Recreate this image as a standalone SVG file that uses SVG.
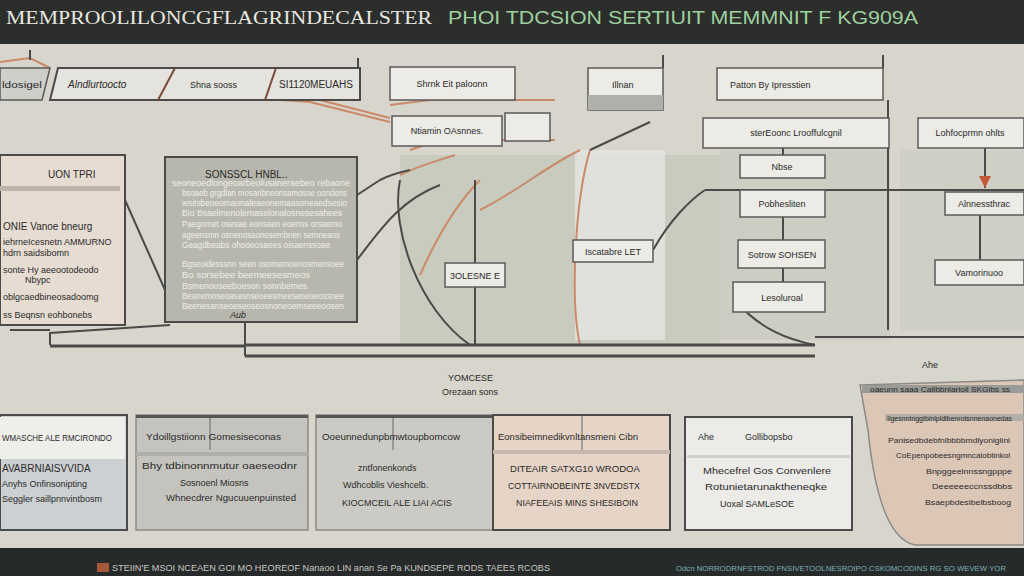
<svg xmlns="http://www.w3.org/2000/svg" width="1024" height="576" viewBox="0 0 1024 576">
<defs>
<style>
.t{font-family:"Liberation Sans Narrow","Liberation Sans",Arial,sans-serif;fill:#2a2a2a}
.s{font-size:9px}
.m{font-size:10px}
.x{font-size:8px}
.w{fill:#f0f0ea}
.box{stroke:#4a4a4a;stroke-width:2}
.lab{fill:#ecebe6;stroke:#5a5a5a;stroke-width:1.5}
.cu{fill:none;stroke:#c98a6a;stroke-width:2}
.dk{fill:none;stroke:#4a4a48;stroke-width:2}
.bus{fill:none;stroke:#4a4a48;stroke-width:3}
</style>
<marker id="ar" viewBox="0 0 10 10" refX="10" refY="5" markerWidth="12" markerHeight="12" markerUnits="userSpaceOnUse" orient="auto">
<path d="M0,0 L10,5 L0,10 Z" fill="#c2573a"/>
</marker>
</defs>
<rect width="1024" height="576" fill="#d8d5cc"/>
<!-- header -->
<rect x="0" y="0" width="1024" height="44" fill="#2c2e2c"/>
<text x="6" y="24" font-family="Liberation Serif,serif" font-size="19" fill="#e8e8e0" textLength="426" lengthAdjust="spacingAndGlyphs">MEMPROOLILONCGFLAGRINDECALSTER</text>
<text x="448" y="24" font-family="Liberation Sans Narrow,Liberation Sans,sans-serif" font-size="19" fill="#9fd09f" textLength="470" lengthAdjust="spacingAndGlyphs">PHOI TDCSION SERTIUIT MEMMNIT F KG909A</text>
<!-- footer -->
<rect x="0" y="548" width="1024" height="28" fill="#262a2b"/>
<rect x="97" y="563" width="12" height="9" fill="#a5583c"/>
<text x="112" y="571" class="t s" style="fill:#c8c8c0" textLength="438" lengthAdjust="spacingAndGlyphs">STEIIN'E MSOI NCEAEN GOI MO HEOREOF Nanaoo LIN anan Se Pa KUNDSEPE RODS TAEES RCOBS</text>
<text x="676" y="571" class="t x" style="fill:#7fb0b8" textLength="330" lengthAdjust="spacingAndGlyphs">Odcn NORRODRNFSTROD FNSIVETOOLNESROIPO CSKOMCODINS RG SO WEVEW YOR</text>

<!-- background shaded regions -->
<rect x="400" y="155" width="320" height="190" fill="#b8bfb0" opacity="0.45"/>
<rect x="575" y="150" width="90" height="190" fill="#e6e6e2" opacity="0.8"/>
<rect x="720" y="150" width="170" height="190" fill="#c3c6bb" opacity="0.5"/>
<rect x="900" y="150" width="124" height="180" fill="#c8cabf" opacity="0.5"/>

<!-- connectors -->
<g id="connectors">
<path class="cu" d="M0,62 L30,58 L50,68"/>
<path class="cu" d="M280,100 L310,102 L390,122"/>
<path class="cu" d="M280,96 L312,98 L390,118"/>
<path class="cu" d="M390,105 L430,100 L555,100"/>
<path class="cu" d="M410,150 L440,140 L555,140"/>
<path class="cu" d="M400,175 C420,165 440,160 455,155"/>
<path class="cu" d="M420,275 C440,230 460,200 480,180"/>
<path class="cu" d="M480,210 C520,190 540,170 580,150"/>
<path class="cu" d="M590,150 C575,200 570,300 580,345"/>
<path class="dk" d="M357,195 L380,180 C390,175 400,172 410,170"/>
<path class="dk" d="M357,260 C380,230 400,200 440,185"/>
<path class="dk" d="M400,180 C390,230 420,310 470,345"/>
<path class="dk" d="M475,180 L475,345"/>
<path class="dk" d="M50,345 L50,333 L170,325"/>
<path class="dk" d="M125,200 L165,290"/>
<path class="dk" d="M10,330 L50,330"/>
<path class="dk" d="M653,250 C670,220 690,200 705,190"/>
<path class="dk" d="M590,150 L650,122"/>
<path class="dk" d="M705,190 L1024,190"/>
<path class="dk" d="M783,148 L783,155"/>
<path class="dk" d="M783,217 L783,312"/>
<path class="dk" d="M735,300 C760,330 790,340 815,345"/>
<path class="dk" d="M888,100 L888,330"/>
<path class="dk" d="M985,148 L985,188" marker-end="url(#ar)"/>
<path class="dk" d="M980,215 L980,260"/>
<path class="bus" d="M245,345 L815,345"/>
<path class="bus" d="M245,356 L815,356"/>
<path class="bus" d="M50,346 L245,346"/>
<path class="dk" d="M815,337 L1024,337"/>
<path class="dk" d="M245,322 L245,356"/>
<path class="dk" d="M30,60 L30,50"/>
<path class="dk" d="M358,58 L358,68"/>
<path class="dk" d="M663,55 L663,68"/>
<path class="dk" d="M883,55 L883,68"/>
</g>

<!-- top row nodes -->
<g id="n-chev0">
<path d="M0,68 L50,68 L42,100 L0,100 Z" fill="#cfcfca" stroke="#5a5a5a" stroke-width="1.5"/>
<text x="2" y="88" class="t s" textLength="40" lengthAdjust="spacingAndGlyphs">ldosigel</text>
</g>
<g id="n-chev">
<path d="M58,68 L360,68 L360,100 L50,100 Z" fill="#e4e3de" stroke="#4a4a4a" stroke-width="2"/>
<path d="M175,68 L158,100 M276,68 L265,100" stroke="#7a4a3a" stroke-width="2"/>
<text x="68" y="88" class="t m" font-style="italic">Alndlurtoocto</text>
<text x="190" y="88" class="t s">Shna sooss</text>
<text x="279" y="88" class="t m" textLength="74" lengthAdjust="spacingAndGlyphs">SI1120MEUAHS</text>
</g>
<g id="n-a">
<rect x="390" y="67" width="125" height="33" class="lab"/>
<text x="452" y="87" class="t s" text-anchor="middle">Shrnk Eit paloonn</text>
</g>
<g id="n-b">
<rect x="392" y="116" width="110" height="30" class="lab"/>
<text x="447" y="134" class="t s" text-anchor="middle">Ntiamin OAsnnes.</text>
</g>
<g id="n-b2">
<rect x="505" y="113" width="45" height="28" class="lab"/>
</g>
<g id="n-c">
<rect x="588" y="68" width="75" height="42" class="lab"/>
<rect x="588" y="95" width="75" height="15" fill="#b0b0aa"/>
<text x="612" y="88" class="t s">Illnan</text>
</g>
<g id="n-d">
<rect x="717" y="68" width="166" height="32" class="lab"/>
<text x="730" y="88" class="t s">Patton By Ipresstien</text>
</g>
<g id="n-e">
<rect x="703" y="118" width="186" height="30" class="lab"/>
<text x="796" y="136" class="t s" text-anchor="middle">sterEoonc Lrooffulcgnil</text>
</g>
<g id="n-f">
<rect x="918" y="118" width="106" height="30" class="lab"/>
<text x="970" y="136" class="t s" text-anchor="middle">Lohfocprmn ohlts</text>
</g>

<!-- middle left panels -->
<g id="n-left">
<rect x="0" y="155" width="125" height="170" fill="#e6dcd2" class="box"/>
<text x="48" y="178" class="t m">UON TPRI</text>
<rect x="0" y="186" width="120" height="5" fill="#bdb3ad"/>
<text x="3" y="230" class="t m">ONIE Vanoe bneurg</text>
<text x="3" y="245" class="t s">iehrneIcesnetn AMMURNO</text>
<text x="3" y="256" class="t s">hdrn saidsibomn</text>
<text x="3" y="273" class="t s">sonte Hy aeeootodeodo</text>
<text x="25" y="283" class="t s">Nbypc</text>
<text x="3" y="300" class="t s">oblgcaedbineosadoomg</text>
<text x="3" y="318" class="t s">ss Beqnsn eohbonebs</text>
</g>
<g id="n-mid">
<rect x="165" y="157" width="192" height="165" fill="#b7b7ad" class="box"/>
<text x="205" y="178" class="t m">SONSSCL HNBL..</text>
<text x="172" y="186" class="t s w" textLength="178" lengthAdjust="spacingAndGlyphs">seoneoedlongeoarbeolusaneraebeo rebaone</text>
<text x="182" y="196" class="t s w" textLength="165" lengthAdjust="spacingAndGlyphs">bsoaeb grgdlan mosanbneonsamosoe oondens</text>
<text x="182" y="206" class="t s w" textLength="165" lengthAdjust="spacingAndGlyphs">wsitsbeoeomaonaleaeonemaasoneaedsesio</text>
<text x="182" y="216" class="t s w" textLength="160" lengthAdjust="spacingAndGlyphs">Bio Bsaelmenolemaselonalosnesesahees</text>
<text x="182" y="227" class="t s w" textLength="160" lengthAdjust="spacingAndGlyphs">Paegomet osesae eonsaen eoenss orsaemo</text>
<text x="182" y="238" class="t s w" textLength="158" lengthAdjust="spacingAndGlyphs">ageensmn osnenosaonosembnen semneaos</text>
<text x="182" y="248" class="t s w" textLength="148" lengthAdjust="spacingAndGlyphs">Geagdbeabs ohooeosaees oisaenssoae</text>
<text x="182" y="267" class="t s w" textLength="162" lengthAdjust="spacingAndGlyphs">Bgseoidesssnn seen osomemoenosmensoee</text>
<text x="182" y="278" class="t s w" textLength="128" lengthAdjust="spacingAndGlyphs">Bo sorsebee beemeesesmeos</text>
<text x="182" y="289" class="t s w" textLength="125" lengthAdjust="spacingAndGlyphs">Bsmenooseeboeson sonnbemes</text>
<text x="182" y="299" class="t s w" textLength="162" lengthAdjust="spacingAndGlyphs">Beanemoseoasesnseoeesmeeseneoeossnee</text>
<text x="182" y="309" class="t s w" textLength="162" lengthAdjust="spacingAndGlyphs">Beenesanseoeseoseosnoneoemseeeoosen</text>
<text x="230" y="318" class="t s" font-style="italic">Aub</text>
</g>

<!-- middle labels -->
<g id="n-g">
<rect x="445" y="263" width="60" height="24" class="lab"/>
<text x="475" y="279" class="t s" text-anchor="middle">3OLESNE E</text>
</g>
<g id="n-h">
<rect x="573" y="240" width="80" height="22" class="lab"/>
<text x="613" y="255" class="t s" text-anchor="middle">Iscatabre LET</text>
</g>
<g id="n-i">
<rect x="740" y="155" width="85" height="23" class="lab"/>
<text x="782" y="170" class="t s" text-anchor="middle">Nbse</text>
</g>
<g id="n-j">
<rect x="740" y="190" width="85" height="27" class="lab"/>
<text x="782" y="207" class="t s" text-anchor="middle">Pobhesliten</text>
</g>
<g id="n-k">
<rect x="738" y="240" width="87" height="28" class="lab"/>
<text x="782" y="258" class="t s" text-anchor="middle">Sotrow SOHSEN</text>
</g>
<g id="n-l">
<rect x="733" y="282" width="92" height="30" class="lab"/>
<text x="782" y="301" class="t s" text-anchor="middle">Lesoluroal</text>
</g>
<g id="n-m">
<rect x="945" y="192" width="79" height="23" class="lab"/>
<text x="984" y="207" class="t s" text-anchor="middle">Alnnessthrac</text>
</g>
<g id="n-n">
<rect x="935" y="260" width="89" height="25" class="lab"/>
<text x="979" y="276" class="t s" text-anchor="middle">Vamorinuoo</text>
</g>
<g id="n-note">
<text x="448" y="381" class="t s">YOMCESE</text>
<text x="442" y="395" class="t s">Orezaan sons</text>
<text x="922" y="368" class="t s">Ahe</text>
</g>

<!-- bottom row -->
<g id="n-p1">
<rect x="0" y="415" width="127" height="115" fill="#cdd0d2" class="box"/>
<rect x="0" y="417" width="125" height="42" fill="#eeeeea"/>
<text x="2" y="441" class="t s" textLength="110" lengthAdjust="spacingAndGlyphs">WMASCHE ALE RMCIRONDO</text>
<text x="2" y="472" class="t m">AVABRNIAISVVIDA</text>
<text x="2" y="487" class="t s">Anyhs Onfinsonipting</text>
<text x="2" y="502" class="t s">Seggler saillpnnvintbosm</text>
</g>
<g id="n-p2">
<rect x="136" y="415" width="172" height="115" fill="#c4c3bd" stroke="#8a8a86" stroke-width="1.5"/>
<rect x="136" y="415" width="172" height="3" fill="#555"/>
<path d="M210,418 L210,450" stroke="#666" stroke-width="1"/>
<rect x="136" y="452" width="172" height="4" fill="#aeaeaa"/>
<text x="146" y="440" class="t s" textLength="135" lengthAdjust="spacingAndGlyphs">Ydoillgstiionn Gomesiseconas</text>
<text x="142" y="469" class="t s" textLength="155" lengthAdjust="spacingAndGlyphs">Bhy tdbinonnmutur oaeseodnr</text>
<text x="180" y="486" class="t s">Sosnoenl Miosns</text>
<text x="166" y="501" class="t s" textLength="130" lengthAdjust="spacingAndGlyphs">Whnecdrer Ngucuuenpuinsted</text>
</g>
<g id="n-p3">
<rect x="316" y="415" width="177" height="115" fill="#cbcac4" stroke="#8a8a86" stroke-width="1.5"/>
<rect x="316" y="415" width="177" height="3" fill="#555"/>
<path d="M393,418 L393,450" stroke="#666" stroke-width="1"/>
<text x="322" y="440" class="t s" textLength="138" lengthAdjust="spacingAndGlyphs">Ooeunnedunpbmwtoupbomcow</text>
<text x="358" y="471" class="t s">zntfonenkonds</text>
<text x="343" y="488" class="t s">Wdhcoblis Vieshcelb.</text>
<text x="342" y="506" class="t s">KIOCMCEIL ALE LIAI ACIS</text>
</g>
<g id="n-p4">
<rect x="493" y="415" width="177" height="115" fill="#e6d4c6" class="box"/>
<rect x="493" y="450" width="177" height="4" fill="#c8b8ac"/>
<path d="M582,415 L582,450" stroke="#666" stroke-width="1"/>
<text x="498" y="440" class="t s" textLength="140" lengthAdjust="spacingAndGlyphs">Eonsibeimnedikvnltansmeni Cibn</text>
<text x="510" y="472" class="t s" textLength="130" lengthAdjust="spacingAndGlyphs">DITEAIR SATXG10 WRODOA</text>
<text x="508" y="489" class="t s" textLength="132" lengthAdjust="spacingAndGlyphs">COTTAIRNOBEINTE 3NVEDSTX</text>
<text x="516" y="506" class="t s" textLength="122" lengthAdjust="spacingAndGlyphs">NIAFEEAIS MINS SHESIBOIN</text>
</g>
<g id="n-p5">
<rect x="685" y="417" width="167" height="113" fill="#ecebe8" class="box"/>
<rect x="687" y="455" width="163" height="3" fill="#cfcfcb"/>
<text x="698" y="440" class="t s">Ahe</text>
<text x="745" y="440" class="t s">Gollibopsbo</text>
<text x="703" y="474" class="t s" textLength="128" lengthAdjust="spacingAndGlyphs">Mhecefrel Gos Convenlere</text>
<text x="705" y="490" class="t s" textLength="122" lengthAdjust="spacingAndGlyphs">Rotunietarunaktheneqke</text>
<text x="720" y="507" class="t s">Uoxal SAMLeSOE</text>
</g>
<g id="n-p6">
<path d="M860,385 L1024,380 L1024,545 L915,545 C890,540 875,500 868,430 Z" fill="#dcc6b6" stroke="#8a8a86" stroke-width="1.5"/>
<rect x="862" y="385" width="162" height="8" fill="#9a9a96"/>
<text x="870" y="392" class="t" style="font-size:7px" textLength="140" lengthAdjust="spacingAndGlyphs">oaeunn saaa Callbbnlarioll SKGlbs ss</text>
<rect x="885" y="414" width="139" height="7" fill="#a9a9a4" opacity="0.8"/>
<text x="887" y="421" class="t" style="font-size:7px" textLength="125" lengthAdjust="spacingAndGlyphs">Ilgesnntnggtbinlpldlbenrotsnnenaonedas</text>
<text x="888" y="443" class="t x" textLength="122" lengthAdjust="spacingAndGlyphs">Panlsedbdebfnlbbbbmdlyoniglinl</text>
<text x="896" y="458" class="t x" textLength="114" lengthAdjust="spacingAndGlyphs">CoEpenpobeesngmncalobtinkol</text>
<text x="926" y="474" class="t x" textLength="86" lengthAdjust="spacingAndGlyphs">Bnpggeelnnssngpppe</text>
<text x="932" y="489" class="t x" textLength="80" lengthAdjust="spacingAndGlyphs">Deeeeeeccnssdbbs</text>
<text x="925" y="505" class="t x" textLength="86" lengthAdjust="spacingAndGlyphs">Bsaepbdeslbelbsboog</text>
</g>
</svg>
